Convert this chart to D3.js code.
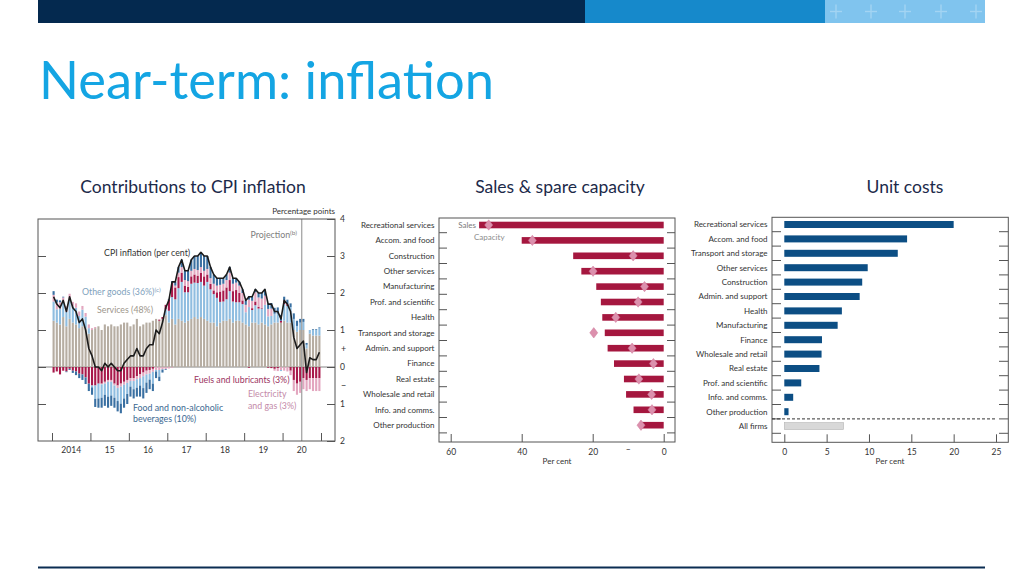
<!DOCTYPE html>
<html><head><meta charset="utf-8">
<script src="https://cdn.jsdelivr.net/npm/d3@7"></script>
<style>
body{margin:0;background:#fff;}
svg{display:block;}
text{font-family:Lato,'Open Sans',sans-serif;}
</style></head><body>
<svg id="c" width="1024" height="576"></svg>
<script>
// ---------------- DATA ----------------
// Contributions to CPI inflation: monthly, Jan 2014 – Dec 2020 (Jul–Dec 2020 projected)
const startYear = 2014;
const projectionStart = 2020.5;
const cpiInflation = [
  1.9,1.7,1.6,1.8,1.5,1.9,1.6,1.5,1.2,1.3,1.0,0.5,
  0.3,0.0,0.0,-0.1,0.1,0.0,0.1,0.0,-0.1,-0.1,0.1,0.2,
  0.3,0.3,0.5,0.3,0.3,0.5,0.6,0.6,1.0,0.9,1.2,1.6,
  1.8,2.3,2.3,2.7,2.9,2.6,2.6,2.9,3.0,3.0,3.1,3.0,
  3.0,2.7,2.5,2.4,2.4,2.4,2.5,2.7,2.4,2.4,2.3,2.1,
  1.8,1.9,1.9,2.1,2.0,2.0,2.1,1.7,1.7,1.5,1.5,1.3,
  1.8,1.7,1.5,0.8,0.5,0.6,0.7,-0.15,0.25,0.2,0.2,0.4];
const services = [
  1.25,1.2,1.15,1.35,1.1,1.3,1.2,1.15,1.05,1.1,1.05,0.9,
  1.0,1.05,1.1,1.0,1.15,1.1,1.15,1.1,1.1,1.15,1.2,1.2,
  1.1,1.15,1.3,1.1,1.15,1.2,1.2,1.25,1.3,1.25,1.3,1.4,
  1.2,1.3,1.15,1.3,1.25,1.2,1.25,1.3,1.35,1.3,1.35,1.3,
  1.25,1.2,1.2,1.1,1.2,1.25,1.25,1.3,1.2,1.25,1.25,1.2,
  1.15,1.1,1.2,1.2,1.15,1.2,1.15,1.1,1.15,1.2,1.2,1.2,
  1.25,1.2,1.2,1.0,0.95,1.0,1.0,0.5,0.9,0.85,0.85,0.85];
const otherGoods = [
  0.52,0.36,0.42,0.38,0.39,0.53,0.44,0.45,0.33,0.45,0.31,0.15,
  -0.05,-0.36,-0.4,-0.36,-0.3,-0.4,-0.37,-0.33,-0.35,-0.46,-0.37,-0.3,
  -0.15,-0.22,-0.23,-0.2,-0.32,-0.22,-0.16,-0.32,-0.04,-0.18,-0.01,0.16,
  0.32,0.59,0.68,0.83,1.05,0.82,0.77,0.95,0.93,0.97,0.95,0.9,
  1.05,0.9,0.77,0.77,0.56,0.52,0.58,0.75,0.57,0.5,0.5,0.5,
  0.33,0.52,0.34,0.47,0.43,0.38,0.53,0.27,0.23,0.24,0.24,-0.03,
  0.45,0.45,0.42,0.3,0.16,0.2,0.22,0.1,0.1,0.15,0.15,0.2];
const fuels = [
  -0.15,-0.12,-0.2,-0.1,-0.12,-0.05,-0.1,-0.12,-0.18,-0.2,-0.28,-0.45,
  -0.5,-0.5,-0.45,-0.45,-0.4,-0.35,-0.35,-0.45,-0.5,-0.45,-0.4,-0.35,
  -0.3,-0.3,-0.25,-0.2,-0.15,-0.1,-0.08,-0.05,0.0,0.03,0.05,0.12,
  0.3,0.38,0.32,0.3,0.25,0.18,0.15,0.2,0.22,0.2,0.25,0.25,
  0.2,0.15,0.1,0.15,0.28,0.3,0.32,0.3,0.28,0.33,0.25,0.1,
  0.0,-0.02,0.05,0.1,0.05,0.02,0.0,-0.02,-0.03,-0.05,-0.03,0.05,
  0.1,0.05,-0.1,-0.35,-0.45,-0.4,-0.3,-0.35,-0.3,-0.3,-0.3,-0.3];
const elecGas = [
  0.18,0.18,0.18,0.15,0.15,0.15,0.12,0.12,0.12,0.1,0.1,0.1,
  0.05,0.03,0.0,-0.02,-0.05,-0.05,-0.05,-0.05,-0.07,-0.08,-0.08,-0.08,
  -0.08,-0.08,-0.08,-0.1,-0.1,-0.1,-0.1,-0.08,-0.08,-0.08,-0.06,-0.06,
  -0.04,-0.02,0.05,0.12,0.15,0.15,0.15,0.15,0.15,0.15,0.15,0.15,
  0.15,0.15,0.18,0.18,0.18,0.18,0.2,0.2,0.2,0.2,0.2,0.2,
  0.2,0.2,0.2,0.25,0.25,0.25,0.25,0.2,0.2,-0.05,-0.08,-0.08,
  -0.1,-0.12,-0.12,-0.3,-0.3,-0.3,-0.3,-0.3,-0.3,-0.35,-0.35,-0.35];
const food = [
  0.1,0.08,0.05,0.02,-0.02,-0.03,-0.06,-0.1,-0.12,-0.15,-0.18,-0.2,
  -0.2,-0.22,-0.25,-0.27,-0.3,-0.3,-0.28,-0.27,-0.28,-0.26,-0.25,-0.27,
  -0.27,-0.25,-0.24,-0.3,-0.28,-0.28,-0.26,-0.2,-0.18,-0.12,-0.08,-0.02,
  0.02,0.05,0.1,0.15,0.2,0.25,0.28,0.3,0.35,0.38,0.4,0.4,
  0.35,0.3,0.25,0.2,0.18,0.15,0.15,0.15,0.15,0.12,0.1,0.1,
  0.12,0.1,0.11,0.08,0.12,0.15,0.17,0.15,0.15,0.16,0.17,0.16,
  0.1,0.12,0.1,0.15,0.14,0.1,0.08,0.05,0.0,0.02,0.02,0.02];
const yearTicks = [2014,2015,2016,2017,2018,2019,2020,2021];
const yearLabels = ["2014","15","16","17","18","19","20"];
const ppTicks = [4,3,2,1,0,-1,-2];

// Sales & spare capacity
const salesCats = ["Recreational services","Accom. and food","Construction","Other services","Manufacturing","Prof. and scientific","Health","Transport and storage","Admin. and support","Finance","Real estate","Wholesale and retail","Info. and comms.","Other production"];
const salesVals = [52,40,25.5,23.2,19,17.7,17.3,16.6,15.8,14,11.2,10.6,8.5,6.4];
const capacityVals = [49.3,37,8.6,19.9,5.4,7.2,13.5,19.7,8.9,2.9,7,3.4,3.3,6.4];
const salesTicks = [60,40,20,0];

// Unit costs
const unitCats = ["Recreational services","Accom. and food","Transport and storage","Other services","Construction","Admin. and support","Health","Manufacturing","Finance","Wholesale and retail","Real estate","Prof. and scientific","Info. and comms.","Other production","All firms"];
const unitVals = [20,14.5,13.4,9.85,9.2,8.9,6.8,6.3,4.45,4.4,4.15,2.0,1.05,0.5,7.0];
const unitTicks = [0,5,10,15,20,25];

// ---------------- DRAW ----------------
const svg = d3.select('#c');
const LBL = 8;
const col = {
  services:'#b6ada2', otherGoods:'#8fbde0', food:'#3a70a2', fuels:'#a8194b', elecGas:'#e3a6bf'
};

// banner
svg.append('rect').attr('x',38).attr('y',0).attr('width',547).attr('height',23).attr('fill','#04294f');
svg.append('rect').attr('x',585).attr('y',0).attr('width',240).attr('height',23).attr('fill','#1689cb');
svg.append('rect').attr('x',825).attr('y',0).attr('width',160).attr('height',23).attr('fill','#80c4ee');
[836,871,905,941,976].forEach(cx=>{
  const g=svg.append('g').attr('transform',`translate(${cx},11.5)`).attr('stroke','#a3d4f3').attr('stroke-width',1.4);
  g.append('line').attr('x1',-6).attr('x2',6).attr('y1',0).attr('y2',0);
  g.append('line').attr('x1',0).attr('x2',0).attr('y1',-7).attr('y2',7);
});
svg.append('line').attr('x1',38).attr('x2',985).attr('y1',567.5).attr('y2',567.5).attr('stroke','#0b2d52').attr('stroke-width',2);

// title
const title = svg.append('text').attr('x',39).attr('y',99).attr('fill','#14a5e3').style('font-size','52px').text('Near-term: inflation');
const tw = title.node().getComputedTextLength();
title.style('font-size', (52*455/tw)+'px');

// subtitles
[['Contributions to CPI inflation',193],['Sales & spare capacity',560],['Unit costs',905]].forEach(([t,x])=>{
  svg.append('text').attr('x',x).attr('y',193).attr('text-anchor','middle').attr('fill','#1c2a4a').style('font-size','17.5px').text(t);
});

// ===== Left chart =====
const xL = d3.scaleLinear().domain([2014,2021]).range([52,321]);
const yL = d3.scaleLinear().domain([-2,4]).range([441,219]);
const L = svg.append('g');
L.append('line').attr('x1',38).attr('x2',335).attr('y1',yL(0)).attr('y2',yL(0)).attr('stroke','#666').attr('stroke-width',0.8);

const comps = {services, otherGoods, fuels, elecGas, food};
const posOrder = ['services','otherGoods','fuels','elecGas','food'];
const negOrder = ['fuels','elecGas','otherGoods','food'];
const segs = [];
cpiInflation.forEach((_,i)=>{
  let p=0,n=0;
  posOrder.forEach(k=>{const v=comps[k][i]; if(v>0){segs.push({i,k,y0:p,y1:p+v}); p+=v;}});
  negOrder.forEach(k=>{const v=comps[k][i]; if(v<0){segs.push({i,k,y0:n+v,y1:n}); n+=v;}});
});
const mw = xL(startYear+1/12)-xL(startYear);
const bw = mw*0.66;
const mx = i => xL(startYear+(i+0.5)/12);
L.append('g').selectAll('rect').data(segs).join('rect')
  .attr('x',d=>mx(d.i)-bw/2).attr('width',bw)
  .attr('y',d=>yL(d.y1)).attr('height',d=>yL(d.y0)-yL(d.y1))
  .attr('fill',d=>col[d.k]);

// projection line
L.append('line').attr('x1',xL(projectionStart)).attr('x2',xL(projectionStart)).attr('y1',219).attr('y2',441).attr('stroke','#8a8a8a').attr('stroke-width',1);

// CPI line
L.append('path').datum(cpiInflation)
  .attr('d',d3.line().x((d,i)=>mx(i)).y(d=>yL(d)))
  .attr('fill','none').attr('stroke','#1b1b1b').attr('stroke-width',1.6).attr('stroke-linejoin','round');

// frame
L.append('rect').attr('x',38).attr('y',219).attr('width',297).attr('height',222).attr('fill','none').attr('stroke','#555').attr('stroke-width',1);

// right axis
const ra = L.append('g').attr('transform','translate(335,0)')
  .call(d3.axisRight(yL).tickValues(ppTicks).tickSizeInner(-8).tickSizeOuter(0).tickPadding(5).tickFormat(d=>Math.abs(d)));
ra.select('.domain').remove();
ra.selectAll('line').attr('stroke','#555');
ra.selectAll('text').style('font-size','8.5px').attr('fill','#333').style('font-family','Lato,sans-serif');
L.append('text').attr('x',341).attr('y',yL(0.5)+3).attr('fill','#333').style('font-size','9px').text('+');
L.append('text').attr('x',341).attr('y',yL(-0.5)+3).attr('fill','#333').style('font-size','9px').text('−');
// left axis ticks
const la = L.append('g').attr('transform','translate(38,0)')
  .call(d3.axisLeft(yL).tickValues([3,2,1,0,-1]).tickSizeInner(-8).tickSizeOuter(0).tickFormat(''));
la.select('.domain').remove(); la.selectAll('line').attr('stroke','#555');
// bottom axis
const ba = L.append('g').attr('transform','translate(0,441)')
  .call(d3.axisBottom(xL).tickValues(yearTicks).tickSizeInner(-8).tickSizeOuter(0).tickFormat(''));
ba.select('.domain').remove(); ba.selectAll('line').attr('stroke','#555');
L.append('g').selectAll('text').data(yearLabels).join('text')
  .attr('x',(d,i)=>xL(yearTicks[i]+0.5)).attr('y',453).attr('text-anchor','middle')
  .attr('fill','#333').style('font-size','8.5px').text(d=>d);

L.append('text').attr('x',335).attr('y',214).attr('text-anchor','end').attr('fill','#333').style('font-size',LBL+'px').text('Percentage points');

function ann(x,y,t,c,sup){
  const tx=L.append('text').attr('x',x).attr('y',y).attr('fill',c).style('font-size','8.8px').text(t);
  if(sup) tx.append('tspan').attr('dy',-3).style('font-size','6.5px').text(sup);
  return tx;
}
ann(104,256,'CPI inflation (per cent)','#333');
ann(82,295,'Other goods (36%)','#7fa2bd','(c)');
ann(97,313,'Services (48%)','#9d958b');
ann(297,238,'Projection','#7d7d7d','(b)').attr('text-anchor','end');
ann(194,383,'Fuels and lubricants (3%)','#9c3461');
ann(248,397,'Electricity','#c48aa9');
ann(248,409,'and gas (3%)','#c48aa9');
ann(133,411,'Food and non-alcoholic','#3a6790');
ann(133,422,'beverages (10%)','#3a6790');

// ===== Middle chart =====
const M = svg.append('g');
const yM = d3.scaleBand().domain(salesCats).range([217.3,432.9]);
const xM = d3.scaleLinear().domain([0,60]).range([663.7,450.7]);
M.append('g').selectAll('rect').data(salesCats).join('rect')
  .attr('x',(d,i)=>xM(salesVals[i])).attr('width',(d,i)=>xM(0)-xM(salesVals[i]))
  .attr('y',d=>yM(d)+yM.bandwidth()/2-3.3).attr('height',6.6).attr('fill','#a5173f');
M.append('g').selectAll('path').data(salesCats).join('path')
  .attr('transform',(d,i)=>`translate(${xM(capacityVals[i])},${yM(d)+yM.bandwidth()/2})`)
  .attr('d','M0,-5.2L4,0L0,5.2L-4,0Z').attr('fill','#dc90ad').attr('stroke','#cf7f9e').attr('stroke-width',0.5);
M.append('rect').attr('x',439).attr('y',218).attr('width',236).attr('height',224).attr('fill','none').attr('stroke','#555');
const mb = yM.bandwidth();
M.append('g').selectAll('line').data(d3.range(1,salesCats.length+1)).join('line')
  .attr('x1',439).attr('x2',447).attr('y1',i=>yM.range()[0]+i*mb).attr('y2',i=>yM.range()[0]+i*mb).attr('stroke','#555');
M.append('g').selectAll('line').data(d3.range(1,salesCats.length+1)).join('line')
  .attr('x1',667).attr('x2',675).attr('y1',i=>yM.range()[0]+i*mb).attr('y2',i=>yM.range()[0]+i*mb).attr('stroke','#555');
const mba = M.append('g').attr('transform','translate(0,442)')
  .call(d3.axisBottom(xM).tickValues(salesTicks).tickSizeInner(-8).tickSizeOuter(0).tickPadding(4));
mba.select('.domain').remove(); mba.selectAll('line').attr('stroke','#555');
mba.selectAll('text').attr('y',7).style('font-size','8.5px').attr('fill','#333').style('font-family','Lato,sans-serif');
M.append('text').attr('x',xM(10)).attr('y',452).attr('text-anchor','middle').attr('fill','#333').style('font-size','8.5px').text('–');
M.append('g').selectAll('text').data(salesCats).join('text')
  .attr('x',434.5).attr('y',d=>yM(d)+yM.bandwidth()/2+2.8).attr('text-anchor','end')
  .attr('fill','#333').style('font-size',LBL+'px').text(d=>d);
M.append('text').attr('x',557).attr('y',464).attr('text-anchor','middle').attr('fill','#333').style('font-size',LBL+'px').text('Per cent');
M.append('text').attr('x',476).attr('y',227.5).attr('text-anchor','end').attr('fill','#7a7a7a').style('font-size',LBL+'px').text('Sales');
M.append('text').attr('x',474).attr('y',239.5).attr('fill','#8c8c8c').style('font-size',LBL+'px').text('Capacity');

// ===== Right chart =====
const R = svg.append('g');
const yR = d3.scaleBand().domain(unitCats).range([217.3,433.3]);
const xR = d3.scaleLinear().domain([0,25]).range([784.3,996]);
const rb = yR.bandwidth();
R.append('g').selectAll('rect').data(unitCats).join('rect')
  .attr('x',xR(0)).attr('width',(d,i)=>xR(unitVals[i])-xR(0))
  .attr('y',d=>yR(d)+rb/2-3.5).attr('height',7)
  .attr('fill',d=>d==='All firms'?'#d8d8d8':'#0c4e84')
  .attr('stroke',d=>d==='All firms'?'#b5b5b5':'none').attr('stroke-width',0.6);
R.append('rect').attr('x',772).attr('y',217.3).attr('width',236.3).attr('height',225).attr('fill','none').attr('stroke','#555');
R.append('g').selectAll('line').data(d3.range(1,unitCats.length+1)).join('line')
  .attr('x1',772).attr('x2',781).attr('y1',i=>yR.range()[0]+i*rb).attr('y2',i=>yR.range()[0]+i*rb).attr('stroke','#555');
R.append('g').selectAll('line').data(d3.range(1,unitCats.length+1)).join('line')
  .attr('x1',999).attr('x2',1008.3).attr('y1',i=>yR.range()[0]+i*rb).attr('y2',i=>yR.range()[0]+i*rb).attr('stroke','#555');
const dashY = yR('All firms');
R.append('line').attr('x1',772).attr('x2',997).attr('y1',dashY).attr('y2',dashY).attr('stroke','#333').attr('stroke-dasharray','3,2');
const rba = R.append('g').attr('transform','translate(0,442.3)')
  .call(d3.axisBottom(xR).tickValues(unitTicks).tickSizeInner(-8).tickSizeOuter(0).tickPadding(4));
rba.select('.domain').remove(); rba.selectAll('line').attr('stroke','#555');
rba.selectAll('text').attr('y',7).style('font-size','8.5px').attr('fill','#333').style('font-family','Lato,sans-serif');
R.append('g').selectAll('text').data(unitCats).join('text')
  .attr('x',767.5).attr('y',d=>yR(d)+rb/2+2.8).attr('text-anchor','end')
  .attr('fill','#333').style('font-size',LBL+'px').text(d=>d);
R.append('text').attr('x',890).attr('y',464).attr('text-anchor','middle').attr('fill','#333').style('font-size',LBL+'px').text('Per cent');
</script></body></html>
